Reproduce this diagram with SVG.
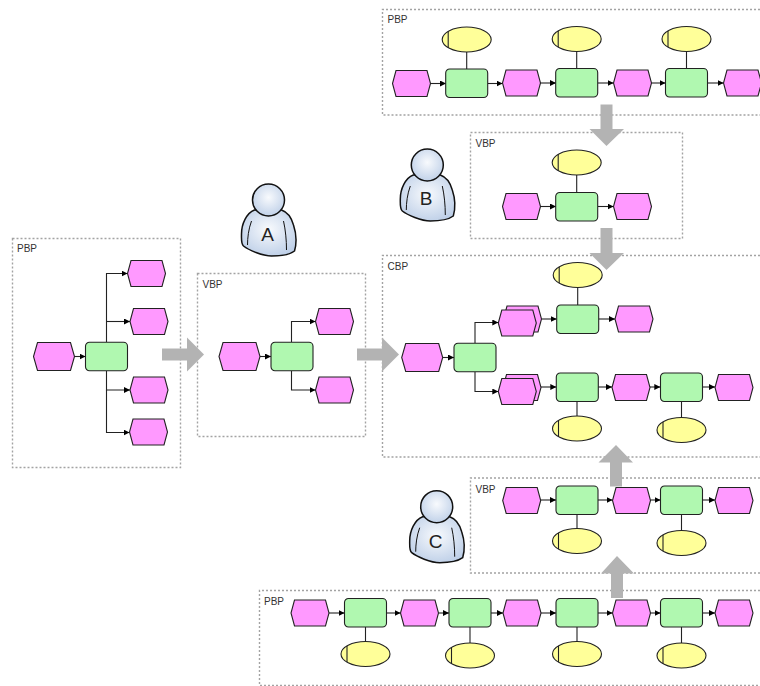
<svg xmlns="http://www.w3.org/2000/svg" width="760" height="686" viewBox="0 0 760 686">
<style>
.box{fill:none;stroke:#a3a3a3;stroke-width:1.400;stroke-dasharray:2 2}
.lbl{font:10px "Liberation Sans",Arial,sans-serif;fill:#333}
.let{font:19px "Liberation Sans",Arial,sans-serif;fill:#222;text-anchor:middle}
.c{fill:none;stroke:#222;stroke-width:1.100}
.a{marker-end:url(#tip)}
.ga{fill:#b3b3b3;stroke:none}
</style>
<defs>
<marker id="tip" markerUnits="userSpaceOnUse" markerWidth="7" markerHeight="7" refX="6" refY="3" orient="auto"><path d="M0 0L6 3L0 6Z" fill="#000"/></marker>
<polygon id="hex" points="3.5,0 34.5,0 38,13 34.5,26 3.5,26 0,13" fill="#ff99ff" stroke="#222" stroke-width="1.100"/>
<polygon id="hexL" points="4,0 37,0 41,14 37,28 4,28 0,14" fill="#ff99ff" stroke="#222" stroke-width="1.100"/>
<rect id="fn" width="42" height="28.5" rx="4" ry="4" fill="#b0f8b0" stroke="#222" stroke-width="1.100"/>
<g id="ell"><ellipse rx="24.5" ry="12.5" fill="#ffff99" stroke="#222" stroke-width="1.100"/><path d="M-18.5 -8.2V8.2" stroke="#222" stroke-width="1.100" fill="none"/></g>
<radialGradient id="pg" cx="50%" cy="42%" r="72%"><stop offset="0" stop-color="#f8fafd"/><stop offset="1" stop-color="#b4c8e4"/></radialGradient>
<g id="person">
<path d="M-14 10C-22 13 -27 24 -27 34C-27 40 -27.500 44 -25 46C-20 50 -6 56 3 56C12 56 22 54 26 51C28 44 28 34 25 25C23 18 19 12 13 10Z" fill="url(#pg)" stroke="#111" stroke-width="1.500" stroke-linejoin="round"/>
<path d="M-17 21C-20 29 -21 38 -21 45M15 21C17 30 18 40 18 50" fill="none" stroke="#111"/>
<circle r="16" fill="url(#pg)" stroke="#111" stroke-width="1.500"/>
</g>
</defs>

<g id="containers">
<rect class="box" x="12.500" y="238.500" width="168" height="229"/>
<rect class="box" x="197.500" y="273.500" width="168" height="163"/>
<path class="box" d="M760 9.500H382.500V115H760"/>
<rect class="box" x="470.500" y="132.500" width="212" height="106"/>
<path class="box" d="M760 255.500H382.500V457H760"/>
<path class="box" d="M760 478H470.500V573H760"/>
<path class="box" d="M760 590.500H259.500V685.500H760"/>
<text class="lbl" x="17" y="252">PBP</text>
<text class="lbl" x="202.500" y="287.500">VBP</text>
<text class="lbl" x="387.500" y="23">PBP</text>
<text class="lbl" x="475.500" y="146.500">VBP</text>
<text class="lbl" x="387.500" y="270">CBP</text>
<text class="lbl" x="475.500" y="492.500">VBP</text>
<text class="lbl" x="264" y="604.500">PBP</text>
</g>

<g id="connectors">
<path class="c a" d="M75 356.500H85.500"/>
<path class="c a" d="M106.500 342V273.500H127.500"/>
<path class="c a" d="M106.500 321.500H130"/>
<path class="c a" d="M106.500 371V390H130"/>
<path class="c a" d="M106.500 390V432.500H129.500"/>
<path class="c a" d="M260 356.500H271"/>
<path class="c a" d="M291.500 342V321.500H315.500"/>
<path class="c a" d="M291.500 371V390H315.500"/>
<path class="c a" d="M430 83.500H446"/>
<path class="c a" d="M488 83.500H502.500"/>
<path class="c a" d="M540 83H556"/>
<path class="c a" d="M598 83H613.500"/>
<path class="c a" d="M651 83H665.500"/>
<path class="c a" d="M707.500 83H723.500"/>
<path class="c" d="M466.700 52V69M576.700 51.500V68.500M686.500 51.500V68.500"/>
<path class="c" d="M576.700 175V192.500"/>
<path class="c a" d="M540 206.500H556"/>
<path class="c a" d="M598 206.500H613.500"/>
<path class="c a" d="M442.500 357.500H454"/>
<path class="c a" d="M475 343V322.500H498.300"/>
<path class="c a" d="M475 372V391.500H498.300"/>
<path class="c a" d="M541.500 319H556.700"/>
<path class="c a" d="M598.700 319H615"/>
<path class="c a" d="M541 387H556.300"/>
<path class="c a" d="M598 387H612"/>
<path class="c a" d="M650 387H660.300"/>
<path class="c a" d="M702.500 387H715"/>
<path class="c" d="M577.700 287.500V305M577 401.500V416M681.500 401.500V417.500"/>
<path class="c a" d="M540.500 500H556"/>
<path class="c a" d="M598 500H612.500"/>
<path class="c a" d="M650.500 500H660.500"/>
<path class="c a" d="M702.500 500H715"/>
<path class="c" d="M577 514.500V529M681.500 514.500V530.500"/>
<path class="c a" d="M329 613H344.500"/>
<path class="c a" d="M386.500 613H400.500"/>
<path class="c a" d="M438.500 613H449"/>
<path class="c a" d="M491 613H503"/>
<path class="c a" d="M541 613H556"/>
<path class="c a" d="M598 613H612.500"/>
<path class="c a" d="M650.500 613H660.500"/>
<path class="c a" d="M702.500 613H715"/>
<path class="c" d="M365.500 627V641.500M470 627V643M577 627V641.500M681.500 627V643"/>
</g>

<g id="pbp-left">
<g id="l-e1"><use href="#hexL" x="33.500" y="342.500"/></g>
<g id="l-f1"><use href="#fn" x="85.500" y="342.300"/></g>
<g id="l-e2"><use href="#hex" x="127.500" y="260.500"/></g>
<g id="l-e3"><use href="#hex" x="130" y="308.500"/></g>
<g id="l-e4"><use href="#hex" x="130" y="377"/></g>
<g id="l-e5"><use href="#hex" x="129.500" y="419"/></g>
</g>
<g id="vbp-a">
<g id="a-e1"><use href="#hexL" x="219" y="342.500"/></g>
<g id="a-f1"><use href="#fn" x="271" y="342.300"/></g>
<g id="a-e2"><use href="#hex" x="315.500" y="308.500"/></g>
<g id="a-e3"><use href="#hex" x="315.500" y="377"/></g>
</g>
<g id="pbp-top">
<g id="t-e1"><use href="#hex" x="392.500" y="70.500"/></g>
<g id="t-f1"><use href="#fn" x="445.700" y="69"/></g>
<g id="t-o1"><use href="#ell" x="466.700" y="39.500"/></g>
<g id="t-e2"><use href="#hex" x="502.500" y="70"/></g>
<g id="t-f2"><use href="#fn" x="555.700" y="68.500"/></g>
<g id="t-o2"><use href="#ell" x="576.700" y="39"/></g>
<g id="t-e3"><use href="#hex" x="613.500" y="70"/></g>
<g id="t-f3"><use href="#fn" x="665.500" y="68.500"/></g>
<g id="t-o3"><use href="#ell" x="686.500" y="39"/></g>
<g id="t-e4"><use href="#hex" x="723.500" y="70"/></g>
</g>
<g id="vbp-b">
<g id="b-o1"><use href="#ell" x="576.700" y="162.500"/></g>
<g id="b-e1"><use href="#hex" x="502.500" y="193.500"/></g>
<g id="b-f1"><use href="#fn" x="555.700" y="192.500"/></g>
<g id="b-e2"><use href="#hex" x="613.500" y="193.500"/></g>
</g>
<g id="cbp">
<g id="c-e1"><use href="#hexL" x="401.700" y="343.500"/></g>
<g id="c-f1"><use href="#fn" x="454" y="343.300"/></g>
<g id="c-e2b"><use href="#hex" x="503.500" y="306"/></g>
<g id="c-e2"><use href="#hex" x="498.300" y="310"/></g>
<g id="c-e3b"><use href="#hex" x="503" y="374.500"/></g>
<g id="c-e3"><use href="#hex" x="498.300" y="378.500"/></g>
<g id="c-o1"><use href="#ell" x="577.700" y="275"/></g>
<g id="c-f2"><use href="#fn" x="556.700" y="305"/></g>
<g id="c-e4"><use href="#hex" x="615" y="306"/></g>
<g id="c-f3"><use href="#fn" x="556.300" y="373"/></g>
<g id="c-o2"><use href="#ell" x="577" y="428.500"/></g>
<g id="c-e5"><use href="#hex" x="612" y="374.500"/></g>
<g id="c-f4"><use href="#fn" x="660.500" y="373"/></g>
<g id="c-o3"><use href="#ell" x="681.500" y="430"/></g>
<g id="c-e6"><use href="#hex" x="715" y="374.500"/></g>
</g>
<g id="vbp-c">
<g id="v-e1"><use href="#hex" x="502.700" y="487.500"/></g>
<g id="v-f1"><use href="#fn" x="556" y="486"/></g>
<g id="v-o1"><use href="#ell" x="577" y="541"/></g>
<g id="v-e2"><use href="#hex" x="612.500" y="487.500"/></g>
<g id="v-f2"><use href="#fn" x="660.500" y="486"/></g>
<g id="v-o2"><use href="#ell" x="681.500" y="543"/></g>
<g id="v-e3"><use href="#hex" x="715" y="487.500"/></g>
</g>
<g id="pbp-bottom">
<g id="p-e1"><use href="#hex" x="291" y="600"/></g>
<g id="p-f1"><use href="#fn" x="344.500" y="598.500"/></g>
<g id="p-o1"><use href="#ell" x="365.500" y="654"/></g>
<g id="p-e2"><use href="#hex" x="400.500" y="600"/></g>
<g id="p-f2"><use href="#fn" x="449" y="598.500"/></g>
<g id="p-o2"><use href="#ell" x="470" y="655.500"/></g>
<g id="p-e3"><use href="#hex" x="503" y="600"/></g>
<g id="p-f3"><use href="#fn" x="556" y="598.500"/></g>
<g id="p-o3"><use href="#ell" x="577" y="654"/></g>
<g id="p-e4"><use href="#hex" x="612.500" y="600"/></g>
<g id="p-f4"><use href="#fn" x="660.500" y="598.500"/></g>
<g id="p-o4"><use href="#ell" x="681.500" y="655.500"/></g>
<g id="p-e5"><use href="#hex" x="715" y="600"/></g>
</g>

<g id="flow-arrows">
<polygon class="ga" points="162,348.500 187,348.500 187,337.500 204,354.500 187,371.500 187,360.500 162,360.500"/>
<polygon class="ga" points="357,348.500 382,348.500 382,337.500 399,354.500 382,371.500 382,360.500 357,360.500"/>
<polygon class="ga" points="600.500,104.500 612.500,104.500 612.500,129 624,129 606.500,146 589.500,129 600.500,129"/>
<polygon class="ga" points="600.500,228 612.500,228 612.500,253 624,253 606.500,270 589.500,253 600.500,253"/>
<polygon class="ga" points="610,486.500 622,486.500 622,462.500 633,462.500 616,445 598.500,462.500 610,462.500"/>
<polygon class="ga" points="611,598 623,598 623,573.500 634,573.500 617,556 601,573.500 611,573.500"/>
</g>

<g id="actor-a"><use href="#person" x="268.500" y="200"/><text class="let" x="267.500" y="240.500">A</text></g>
<g id="actor-b"><use href="#person" x="427.300" y="165"/><text class="let" x="426" y="205">B</text></g>
<g id="actor-c"><use href="#person" x="436.700" y="506.700"/><text class="let" x="435.500" y="547.500">C</text></g>
</svg>
